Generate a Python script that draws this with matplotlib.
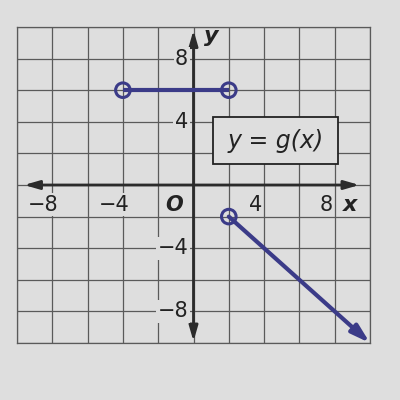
"""Piecewise graph of y = g(x) on a textbook grid."""
import matplotlib
matplotlib.use("Agg")
import matplotlib.pyplot as plt
from matplotlib.patches import Rectangle

# data
seg_x = [-4, 2]
seg_y = [6, 6]
ray_x = [2, 10]
ray_y = [-2, -10]
open_x = [-4, 2, 2]
open_y = [6, 6, -2]
xtick_vals = [-8, -4, 4, 8]
ytick_vals = [8, 4, -4, -8]

PAPER = "#dedede"
GRID = "#5a5a5a"
INK = "#3b3b88"

fig = plt.figure(figsize=(4, 4), dpi=100, facecolor=PAPER)
ax = fig.add_axes([0.0425, 0.1425, 0.8825, 0.79])
ax.set_facecolor(PAPER)
ax.set_xlim(-10, 10)
ax.set_ylim(-10, 10)
ax.set_xticks(range(-10, 11, 2))
ax.set_yticks(range(-10, 11, 2))
ax.tick_params(length=0, labelbottom=False, labelleft=False)
ax.grid(True, color=GRID, lw=0.9)
for s in ax.spines.values():
    s.set_color(GRID)
    s.set_linewidth(0.9)

# axes with arrows
head = "<|-|>,head_length=0.45,head_width=0.13"
ax.annotate("", xy=(9.4, 0), xytext=(-9.6, 0),
            arrowprops=dict(arrowstyle=head, color="#2b2b2b", lw=2.0,
                            mutation_scale=20, shrinkA=0, shrinkB=0))
ax.annotate("", xy=(0, 9.8), xytext=(0, -9.9),
            arrowprops=dict(arrowstyle=head, color="#2b2b2b", lw=2.0,
                            mutation_scale=20, shrinkA=0, shrinkB=0))

lab = dict(fontsize=15, color="#222222", va="center",
           bbox=dict(facecolor=PAPER, edgecolor="none", pad=1.0))
for v in xtick_vals:
    ax.text(v - 0.5, -1.25, f"\u2212{abs(v)}" if v < 0 else str(v), ha="center", **lab)
for v in ytick_vals:
    ax.text(-0.3, v, f"\u2212{abs(v)}" if v < 0 else str(v), ha="right", **lab)
ax.text(-1.1, -1.25, "O", ha="center", fontweight="bold", style="italic", **lab)
ax.text(8.9, -1.25, "x", ha="center", fontweight="bold", style="italic", fontsize=16,
        color="#222222", va="center")
ax.text(1.0, 9.4, "y", ha="center", fontweight="bold", style="italic", fontsize=16,
        color="#222222", va="center")

# function pieces
ax.plot(seg_x, seg_y, color=INK, lw=3, solid_capstyle="butt", zorder=4)
ax.annotate("", xy=(ray_x[1], ray_y[1]), xytext=(ray_x[0], ray_y[0]),
            arrowprops=dict(arrowstyle="-|>,head_length=0.5,head_width=0.15", color=INK,
                            lw=3, mutation_scale=22, shrinkA=0, shrinkB=0), zorder=4)
ax.scatter(open_x, open_y, s=110, facecolors="none", edgecolors=INK, linewidths=2.2, zorder=5)

# label box
ax.add_patch(Rectangle((1.1, 1.3), 7.1, 3.0, facecolor=PAPER, edgecolor="#222222",
                       lw=1.3, zorder=6))
ax.text(4.65, 2.8, "y = g(x)", ha="center", va="center", fontsize=17, style="italic",
        color="#222222", zorder=7)

fig.savefig("out.png", dpi=100, facecolor=PAPER)
